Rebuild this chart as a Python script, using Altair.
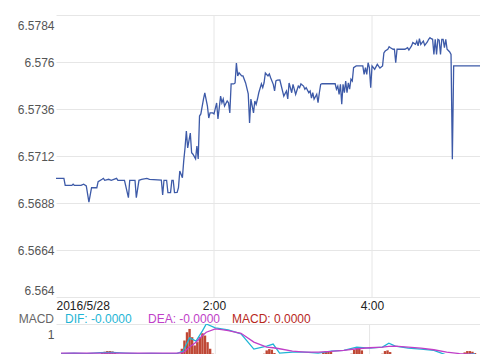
import altair as alt
import pandas as pd

# ---------------- data ----------------
price_minutes = [0, 6, 7, 12, 13, 14, 19, 21, 23, 25, 27, 31, 32, 35, 36, 37, 40, 42, 46, 47,
                 52, 55, 56, 60, 61, 63, 65, 69, 71, 80, 81, 82, 84, 85, 87, 88, 89, 90, 92, 93,
                 94, 96, 97, 98, 99, 100, 102, 103, 104, 106, 107, 108, 109, 110, 112, 113, 115, 116, 117, 119,
                 120, 122, 123, 125, 126, 127, 128, 130, 131, 132, 133, 135, 136, 137, 138, 139, 141, 142, 144, 146,
                 147, 148, 150, 151, 152, 153, 154, 156, 157, 158, 159, 161, 162, 163, 165, 166, 167, 168, 170, 173,
                 175, 176, 177, 179, 180, 182, 184, 185, 186, 188, 189, 190, 192, 193, 194, 195, 196, 198, 199, 200,
                 201, 202, 212, 213, 214, 215, 216, 217, 218, 219, 220, 221, 222, 223, 224, 225, 226, 228, 233, 234,
                 235, 236, 237, 238, 239, 240, 242, 244, 246, 248, 249, 250, 252, 253, 254, 256, 257, 258, 259, 261,
                 265, 267, 268, 270, 271, 273, 274, 275, 276, 277, 278, 279, 280, 282, 283, 284, 285, 286, 287, 288,
                 289, 290, 291, 292, 293, 294, 295, 296, 297, 299, 300, 301, 302, 322]
price_values = [6.57006, 6.57006, 6.56970, 6.56970, 6.56976, 6.56970, 6.56970, 6.56976, 6.56967, 6.56885,
                6.56958, 6.56958, 6.56989, 6.57001, 6.57006, 6.56996, 6.57001, 6.56996, 6.57006, 6.56996,
                6.56996, 6.56907, 6.56996, 6.56996, 6.56907, 6.56996, 6.57001, 6.57006, 6.57001, 6.56997,
                6.56921, 6.56996, 6.56996, 6.56933, 6.56933, 6.56996, 6.56996, 6.56933, 6.56934, 6.56958,
                6.57043, 6.57009, 6.57095, 6.57162, 6.57248, 6.57161, 6.57237, 6.57137, 6.57129, 6.57105,
                6.57171, 6.57105, 6.57324, 6.57335, 6.57411, 6.57442, 6.57375, 6.57314, 6.57340, 6.57340,
                6.57335, 6.57391, 6.57309, 6.57426, 6.57392, 6.57411, 6.57375, 6.57401, 6.57392, 6.57340,
                6.57488, 6.57488, 6.57493, 6.57595, 6.57529, 6.57545, 6.57529, 6.57529, 6.57493, 6.57437,
                6.57289, 6.57411, 6.57340, 6.57401, 6.57384, 6.57411, 6.57443, 6.57488, 6.57469, 6.57494,
                6.57544, 6.57529, 6.57539, 6.57520, 6.57486, 6.57452, 6.57503, 6.57507, 6.57508, 6.57426,
                6.57452, 6.57411, 6.57493, 6.57443, 6.57486, 6.57435, 6.57477, 6.57469, 6.57488, 6.57477,
                6.57461, 6.57469, 6.57443, 6.57452, 6.57416, 6.57443, 6.57410, 6.57435, 6.57392, 6.57443,
                6.57486, 6.57489, 6.57489, 6.57461, 6.57477, 6.57435, 6.57486, 6.57384, 6.57486, 6.57443,
                6.57503, 6.57443, 6.57494, 6.57461, 6.57512, 6.57503, 6.57571, 6.57580, 6.57580, 6.57537,
                6.57571, 6.57537, 6.57596, 6.57571, 6.57469, 6.57580, 6.57563, 6.57588, 6.57569, 6.57580,
                6.57646, 6.57656, 6.57665, 6.57678, 6.57673, 6.57665, 6.57665, 6.57596, 6.57665, 6.57665,
                6.57665, 6.57673, 6.57661, 6.57682, 6.57699, 6.57690, 6.57707, 6.57682, 6.57719, 6.57690,
                6.57699, 6.57707, 6.57685, 6.57702, 6.57716, 6.57724, 6.57719, 6.57716, 6.57639, 6.57716,
                6.57639, 6.57716, 6.57712, 6.57639, 6.57716, 6.57716, 6.57673, 6.57716, 6.57665, 6.57651,
                6.57639, 6.57103, 6.57580, 6.57580]

macd_minutes = [0, 10, 20, 30, 40, 50, 60, 70, 80, 90, 95, 100, 105, 110, 113, 120, 125, 130, 140, 150,
                160, 165, 170, 180, 190, 200, 210, 220, 230, 240, 250, 255, 260, 270, 280, 290, 300, 310, 322]
dif_values = [0.10, 0.12, 0.10, 0.13, 0.14, 0.12, 0.10, 0.11, 0.10, 0.10, 0.18, 0.58, 0.48, 0.79, 1.00, 0.88,
              0.85, 0.82, 0.70, 0.24, 0.33, 0.39, 0.12, 0.15, 0.15, 0.12, 0.18, 0.20, 0.30, 0.27, 0.30, 0.42,
              0.33, 0.27, 0.24, 0.20, 0.06, 0.05, 0.10]
dea_values = [0.12, 0.12, 0.12, 0.12, 0.12, 0.12, 0.12, 0.12, 0.12, 0.12, 0.13, 0.30, 0.45, 0.65, 0.75, 0.85,
              0.83, 0.80, 0.72, 0.45, 0.30, 0.28, 0.25, 0.18, 0.15, 0.15, 0.17, 0.20, 0.25, 0.28, 0.30, 0.32,
              0.33, 0.30, 0.27, 0.22, 0.15, 0.10, 0.08]

hist_minutes = [18, 20, 22, 24, 26, 30, 32, 34, 36, 38, 40, 42, 44, 46,
                92, 94, 96, 98, 100, 102, 104, 106, 108, 110, 112, 114, 116, 118,
                158, 160, 162, 164, 166, 202, 204, 206, 208, 210, 212,
                226, 228, 230, 232, 234, 236, 250, 252, 254, 256, 258,
                312, 314, 316, 318, 320, 322]
hist_values = [0.05, 0.10, 0.12, 0.10, 0.05, 0.06, 0.12, 0.16, 0.18, 0.18, 0.17, 0.14, 0.10, 0.05,
               0.10, 0.25, 0.50, 0.75, 0.85, 0.60, 0.35, 0.45, 0.60, 0.72, 0.65, 0.45, 0.25, 0.10,
               0.10, 0.20, 0.24, 0.22, 0.12, 0.08, 0.15, 0.18, 0.18, 0.15, 0.08,
               0.10, 0.22, 0.27, 0.27, 0.20, 0.08, 0.10, 0.18, 0.20, 0.15, 0.06,
               0.08, 0.14, 0.18, 0.18, 0.16, 0.12]

y_ticks = [6.564, 6.5664, 6.5688, 6.5712, 6.5736, 6.576, 6.5784]
grid_hours = [2, 4]
date_label = "2016/5/28"
legend_labels = ["MACD", "DIF: -0.0000", "DEA: -0.0000", "MACD: 0.0000"]

# ---------------- frames ----------------
base = pd.Timestamp("2016-05-28 00:00:00")
price_df = pd.DataFrame({"time": base + pd.to_timedelta(price_minutes, unit="m"),
                         "price": price_values})
macd_df = pd.DataFrame({"time": base + pd.to_timedelta(macd_minutes, unit="m"),
                        "DIF": dif_values, "DEA": dea_values})
hist_df = pd.DataFrame({"time": base + pd.to_timedelta(hist_minutes, unit="m"),
                        "hist": hist_values})
grid_df = pd.DataFrame({"time": base + pd.to_timedelta(grid_hours, unit="h")})


def dt(h, m):
    return alt.DateTime(year=2016, month=5, date=28, hours=h, minutes=m)


FONT = "Liberation Sans"
GRID = "#e6e6e6"
x_scale = alt.Scale(domain=[dt(0, 0), dt(5, 22)])
W = 424

x_main = alt.X("time:T", scale=x_scale,
               axis=alt.Axis(values=[dt(0, 0), dt(2, 0), dt(4, 0)],
                             labelExpr=f"hours(datum.value) == 0 ? '{date_label}' : timeFormat(datum.value, '%-H:%M')",
                             title=None, ticks=False, domain=False, labelFlush=True, grid=False,
                             labelPadding=3, labelFontSize=12, labelColor="#222", labelFont=FONT))
y_main = alt.Y("price:Q", scale=alt.Scale(domain=[6.564, 6.5784], zero=False, nice=False),
               axis=alt.Axis(values=y_ticks, format=".5~g", title=None, ticks=False, domain=False,
                             labelFlush=True, labelPadding=2, minExtent=56, labelFontSize=12,
                             labelColor="#555", labelFont=FONT, gridColor=GRID,
                             labelOffset={"condition": {"test": "datum.value > 6.578", "value": 5}, "value": 0}))

vgrid_main = alt.Chart(grid_df).mark_rule(color=GRID, strokeWidth=1).encode(x=alt.X("time:T", scale=x_scale))
price_line = alt.Chart(price_df).mark_line(color="#3d5aa8", strokeWidth=1.3, clip=True).encode(
    x=x_main, y=y_main)
main = alt.layer(vgrid_main, price_line).properties(width=W, height=282)

x_macd = alt.X("time:T", scale=x_scale,
               axis=alt.Axis(labels=False, ticks=False, domain=False, grid=False, title=None))
y_scale_macd = alt.Scale(domain=[-1, 1], nice=False, zero=False)
y_macd_axis = alt.Axis(values=[1], format="~g", title=None, ticks=False, domain=False, labelFlush=True,
                       labelPadding=2, minExtent=56, labelFontSize=12, labelColor="#555",
                       labelFont=FONT, gridColor=GRID,
                       labelOffset={"condition": {"test": "datum.value > 0.5", "value": 5}, "value": 0})

vgrid_macd = alt.Chart(grid_df).mark_rule(color=GRID, strokeWidth=1).encode(x=alt.X("time:T", scale=x_scale))
bars = alt.Chart(hist_df).mark_bar(size=2.4, color="#b8331f", opacity=0.9, clip=True).encode(
    x=x_macd, y=alt.Y("hist:Q", scale=y_scale_macd, axis=y_macd_axis), y2=alt.datum(0))
dif_line = alt.Chart(macd_df).mark_line(color="#1fb5d5", strokeWidth=1.3, clip=True).encode(
    x=x_macd, y=alt.Y("DIF:Q", scale=y_scale_macd, axis=y_macd_axis))
dea_line = alt.Chart(macd_df).mark_line(color="#c03fc8", strokeWidth=1.3, clip=True).encode(
    x=x_macd, y=alt.Y("DEA:Q", scale=y_scale_macd, axis=y_macd_axis))

leg_src = alt.Chart(pd.DataFrame({"k": [0]}))
leg_colors = ["#666666", "#1fb5d5", "#c03fc8", "#b8281c"]
leg_x = [-2, 9, 92, 176]
leg_align = ["right", "left", "left", "left"]
legend_layers = [
    leg_src.mark_text(text=t, color=c, align=a, baseline="middle", fontSize=12, font=FONT).encode(
        x=alt.value(xx), y=alt.value(-5))
    for t, c, xx, a in zip(legend_labels, leg_colors, leg_x, leg_align)
]

macd = alt.layer(vgrid_macd, bars, dif_line, dea_line, *legend_layers).properties(width=W, height=66)

chart = alt.vconcat(main, macd, spacing=2).properties(
    padding={"left": 0, "top": 14, "right": 0, "bottom": 0}
).configure(font=FONT).configure_view(strokeWidth=0, stroke=None)

chart.save("out.html", embed_options={"renderer": "svg", "actions": False})
